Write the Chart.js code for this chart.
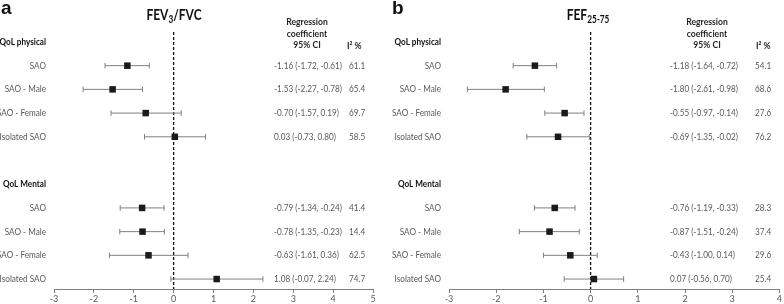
<!DOCTYPE html>
<html>
<head>
<meta charset="utf-8">
<script src="https://cdn.jsdelivr.net/npm/chart.js@4/dist/chart.umd.min.js"></script>
<style>
  html, body { margin: 0; padding: 0; background: #fff; }
  #wrap { position: relative; width: 784px; height: 304px; overflow: hidden; }
  canvas { position: absolute; top: 0; }
  .letter { position: absolute; top: -3px; font: bold 19px "Liberation Sans", Arial, sans-serif; color: #111; }
  .title { position: absolute; top: 4px; font: bold 16px Lato, sans-serif; color: #111; white-space: nowrap; transform: translateX(-50%) scaleX(0.75); }
  .title sub { font-size: 11px; vertical-align: -3px; line-height: 0; }
</style>
</head>
<body>
<div id="wrap">
  <canvas id="ca" width="392" height="304" style="left:0"></canvas>
  <canvas id="cb" width="392" height="304" style="left:392px"></canvas>
  <div class="letter" style="left:1px">a</div>
  <div class="letter" style="left:392px">b</div>
  <div class="title" style="left:174px">FEV<sub>3</sub>/FVC</div>
  <div class="title" style="left:588px">FEF<sub>25-75</sub></div>
</div>
<script>
// ---- data ----
const rowLabels = ['QoL physical', 'SAO', 'SAO - Male', 'SAO - Female', 'Isolated SAO', '', 'QoL Mental', 'SAO', 'SAO - Male', 'SAO - Female', 'Isolated SAO'];
const headerRows = [0, 6];
const dataRows = [1, 2, 3, 4, 7, 8, 9, 10];

const fevCoef = [-1.16, -1.53, -0.70, 0.03, -0.79, -0.78, -0.63, 1.08];
const fevLow  = [-1.72, -2.27, -1.57, -0.73, -1.34, -1.35, -1.61, -0.07];
const fevHigh = [-0.61, -0.78, 0.19, 0.80, -0.24, -0.23, 0.36, 2.24];
const fevI2   = [61.1, 65.4, 69.7, 58.5, 41.4, 14.4, 62.5, 74.7];

const fefCoef = [-1.18, -1.80, -0.55, -0.69, -0.76, -0.87, -0.43, 0.07];
const fefLow  = [-1.64, -2.61, -0.97, -1.35, -1.19, -1.51, -1.00, -0.56];
const fefHigh = [-0.72, -0.98, -0.14, -0.02, -0.33, -0.24, 0.14, 0.70];
const fefI2   = [54.1, 68.6, 27.6, 76.2, 28.3, 37.4, 29.6, 25.4];

const xRangeA = [-3, 5];
const xRangeB = [-3, 4];
const headerLines = ['Regression', 'coefficient', '95% CI'];
const i2Header = 'I\u00B2 %';

// ---- drawing ----
const FONT = 'Lato, sans-serif';
const GRAY_TXT = '#595959';
const SX = 0.86; // horizontal compression for text (Calibri-like width)

function narrowText(ctx, s, x, y, align) {
  ctx.save();
  ctx.translate(x, y);
  ctx.scale(SX, 1);
  ctx.textAlign = align;
  ctx.fillText(s, 0, 0);
  ctx.restore();
}

const tablePlugin = {
  id: 'table',
  afterDraw(chart, args, o) {
    const ctx = chart.ctx, ys = chart.scales.y;
    ctx.save();
    ctx.textBaseline = 'middle';
    // row labels (left of plot)
    const lx = chart.chartArea.left - 8;
    rowLabels.forEach((lab, r) => {
      if (!lab) return;
      const py = ys.getPixelForValue(r);
      if (headerRows.includes(r)) { ctx.font = 'bold 9.5px ' + FONT; ctx.fillStyle = '#111'; }
      else { ctx.font = '9.5px ' + FONT; ctx.fillStyle = GRAY_TXT; }
      narrowText(ctx, lab, lx, py, 'right');
    });
    // column headers
    ctx.fillStyle = '#262626';
    ctx.font = 'bold 10px ' + FONT;
    [22, 33.5, 45].forEach((yy, i) => narrowText(ctx, headerLines[i], o.hx, yy, 'center'));
    narrowText(ctx, i2Header, o.ihx, 46, 'left');
    // values
    ctx.font = '9.5px ' + FONT;
    ctx.fillStyle = GRAY_TXT;
    dataRows.forEach((r, i) => {
      const py = ys.getPixelForValue(r);
      const s = o.coef[i].toFixed(2) + ' (' + o.low[i].toFixed(2) + ', ' + o.high[i].toFixed(2) + ')';
      narrowText(ctx, s, o.vx, py, 'left');
      narrowText(ctx, o.i2[i].toFixed(1), o.ix, py, 'left');
    });
    ctx.restore();
  }
};

function makeChart(id, coef, low, high, i2, xr, yWidth, padRight, tx) {
  const datasets = [];
  datasets.push({
    data: dataRows.map((r, i) => ({ x: coef[i], y: r })),
    pointStyle: 'rect', pointRadius: 4.6, pointHoverRadius: 4.6,
    backgroundColor: '#1a1a1a', borderColor: '#1a1a1a', borderWidth: 0,
    showLine: false, order: 0
  });
  dataRows.forEach((r, i) => {
    datasets.push({
      data: [{ x: low[i], y: r }, { x: high[i], y: r }],
      showLine: true, borderColor: '#808080', borderWidth: 1,
      pointStyle: 'line', rotation: 90, pointRadius: 2.8, pointHoverRadius: 2.8,
      pointBorderColor: '#808080', pointBorderWidth: 1, order: 1
    });
  });
  datasets.push({
    data: [{ x: 0, y: -0.42 }, { x: 0, y: 10.42 }],
    showLine: true, borderColor: '#111', borderWidth: 1.3, borderDash: [3, 2],
    pointRadius: 0, order: 2
  });
  return new Chart(document.getElementById(id), {
    type: 'scatter',
    data: { datasets },
    plugins: [tablePlugin],
    options: {
      responsive: false, animation: false,
      clip: false,
      layout: { padding: { top: 32, right: padRight, left: 0, bottom: 0 } },
      plugins: { legend: { display: false }, tooltip: { enabled: false }, table: Object.assign({ coef, low, high, i2 }, tx) },
      scales: {
        x: {
          type: 'linear', min: xr[0], max: xr[1],
          afterFit: s => { s.height = 15; },
          ticks: { stepSize: 1, color: GRAY_TXT, font: { family: FONT, size: 9 }, padding: 1, maxRotation: 0 },
          grid: { drawOnChartArea: false, drawTicks: true, tickLength: 4, color: '#7f7f7f' },
          border: { color: '#7f7f7f', width: 1 }
        },
        y: {
          type: 'linear', min: -0.42, max: 10.42, reverse: true,
          afterFit: s => { s.width = yWidth; },
          afterBuildTicks: s => { s.ticks = rowLabels.map((_, i) => ({ value: i })); },
          ticks: { display: false },
          grid: { display: false, drawTicks: false },
          border: { display: false }
        }
      }
    }
  });
}

makeChart('ca', fevCoef, fevLow, fevHigh, fevI2, xRangeA, 54, 19, { hx: 307, ihx: 347, vx: 274, ix: 349 });
makeChart('cb', fefCoef, fefLow, fefHigh, fefI2, xRangeB, 57, 2, { hx: 315, ihx: 364, vx: 278, ix: 363 });
</script>
</body>
</html>
